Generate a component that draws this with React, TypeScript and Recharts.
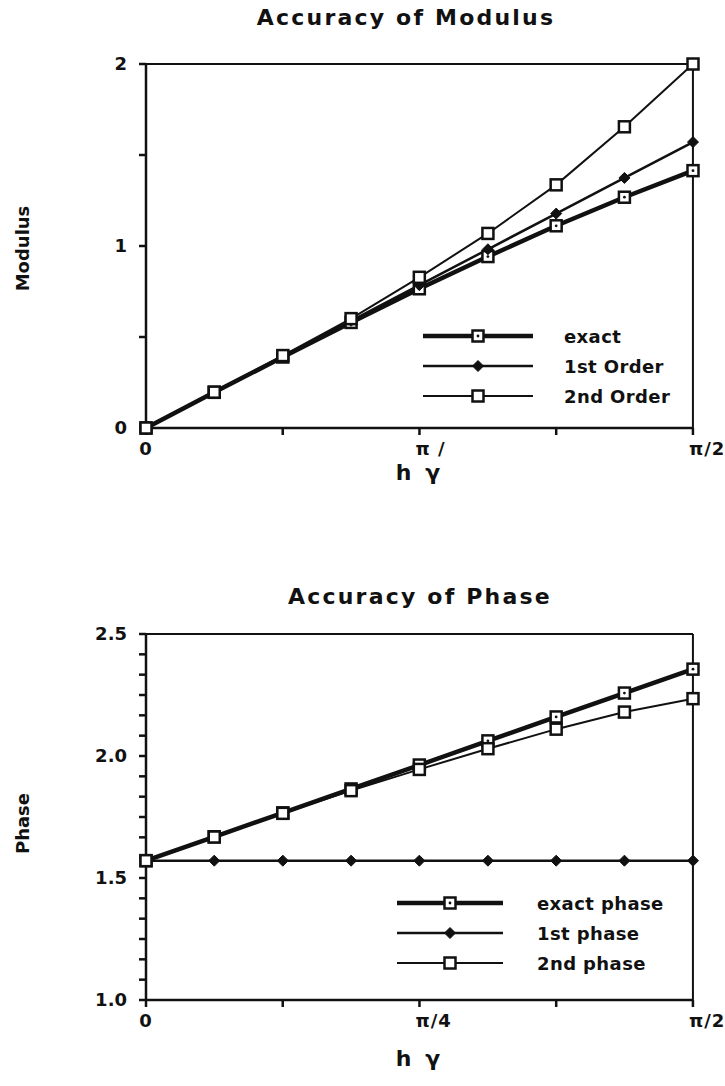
import React from "react";
import { LineChart, Line, XAxis, YAxis, ReferenceLine, Legend } from "recharts";

const FONT = "'DejaVu Sans', 'Liberation Sans', Arial, sans-serif";
const INK = "#111";

// h*gamma sample points, 0 .. pi/2 in steps of pi/16
const hGamma = [0, 0.196, 0.393, 0.589, 0.785, 0.982, 1.178, 1.374, 1.571];

// top chart: modulus
const exactModulus = [0, 0.196, 0.39, 0.58, 0.765, 0.942, 1.111, 1.268, 1.414];
const firstOrder = [0, 0.196, 0.393, 0.589, 0.785, 0.982, 1.178, 1.374, 1.571];
const secondOrder = [0, 0.197, 0.398, 0.601, 0.828, 1.069, 1.336, 1.655, 2.0];

// bottom chart: phase
const exactPhase = [1.571, 1.669, 1.767, 1.865, 1.963, 2.062, 2.16, 2.258, 2.356];
const firstPhase = [1.571, 1.571, 1.571, 1.571, 1.571, 1.571, 1.571, 1.571, 1.571];
const secondPhase = [1.571, 1.668, 1.765, 1.858, 1.945, 2.03, 2.11, 2.18, 2.235];

const xTicks = [0, 0.3927, 0.7854, 1.1781, 1.5708];
const xLabelsTop = ["0", "", "π /", "", "π/2"];
const xLabelsBottom = ["0", "", "π/4", "", "π/2"];

const modulusTicks = [0, 0.5, 1, 1.5, 2];
const modulusLabels = ["0", "", "1", "", "2"];
const phaseTicks = Array.from({ length: 19 }, (_, i) => 1 + i / 12);
const phaseLabels = phaseTicks.map((_, i) => (i % 6 === 0 ? (1 + i / 12).toFixed(1) : ""));

const modulusData = hGamma.map((x, i) => ({
  x,
  exact: exactModulus[i],
  first: firstOrder[i],
  second: secondOrder[i],
}));
const phaseData = hGamma.map((x, i) => ({
  x,
  exact: exactPhase[i],
  first: firstPhase[i],
  second: secondPhase[i],
}));

type Marker = "squareDot" | "diamond" | "square";

function markerShape(kind: Marker, cx: number, cy: number, key?: string) {
  if (kind === "diamond") {
    return (
      <polygon
        key={key}
        points={`${cx},${cy - 5.5} ${cx + 5.5},${cy} ${cx},${cy + 5.5} ${cx - 5.5},${cy}`}
        fill={INK}
        stroke={INK}
        strokeWidth={1}
      />
    );
  }
  return (
    <g key={key}>
      <rect x={cx - 5.5} y={cy - 5.5} width={11} height={11} fill="#fff" stroke={INK} strokeWidth={2.5} />
      {kind === "squareDot" && <circle cx={cx} cy={cy} r={1.4} fill={INK} />}
    </g>
  );
}

const makeDot = (kind: Marker) => (props: any) => {
  const { cx, cy, index } = props;
  if (cx == null || cy == null) return <g key={`n${index}`} />;
  return markerShape(kind, cx, cy, `d${index}`);
};

const XTick = (labels: string[]) => (props: any) => {
  const { x, y, payload, index } = props;
  const i = index ?? payload.index;
  const label = labels[i] ?? "";
  const first = i === 0;
  return (
    <text
      x={first ? x : x - 4}
      y={y + 18}
      textAnchor={first ? "middle" : "start"}
      fontFamily={FONT}
      fontWeight="bold"
      fontSize={18}
      letterSpacing={1}
      fill={INK}
    >
      {label}
    </text>
  );
};

type Series = { key: string; name: string; marker: Marker; width: number };

const modulusSeries: Series[] = [
  { key: "exact", name: "exact", marker: "squareDot", width: 4.5 },
  { key: "first", name: "1st Order", marker: "diamond", width: 2.5 },
  { key: "second", name: "2nd Order", marker: "square", width: 2 },
];
const phaseSeries: Series[] = [
  { key: "exact", name: "exact phase", marker: "squareDot", width: 4.5 },
  { key: "first", name: "1st phase", marker: "diamond", width: 2.5 },
  { key: "second", name: "2nd phase", marker: "square", width: 2 },
];

function LegendBox({ series, lineLen, gap }: { series: Series[]; lineLen: number; gap: number }) {
  return (
    <div>
      {series.map((s) => (
        <div key={s.key} style={{ display: "flex", alignItems: "center", height: 30 }}>
          <svg width={lineLen} height={14} style={{ overflow: "visible" }}>
            <line x1={0} x2={lineLen} y1={7} y2={7} stroke={INK} strokeWidth={s.width} />
            {markerShape(s.marker, lineLen / 2, 7)}
          </svg>
          <span
            style={{
              marginLeft: gap,
              fontFamily: FONT,
              fontWeight: "bold",
              fontSize: 18,
              letterSpacing: 0.4,
              color: INK,
              whiteSpace: "nowrap",
            }}
          >
            {s.name}
          </span>
        </div>
      ))}
    </div>
  );
}

const titleStyle: React.CSSProperties = {
  position: "absolute",
  width: 520,
  textAlign: "center",
  fontFamily: FONT,
  fontWeight: "bold",
  fontSize: 22,
  letterSpacing: 2.2,
  color: INK,
};

const axisTitleStyle: React.CSSProperties = {
  position: "absolute",
  left: 146,
  width: 547,
  textAlign: "center",
  fontFamily: FONT,
  fontWeight: "bold",
  fontSize: 22,
  letterSpacing: 3,
  color: INK,
};

const yTitleStyle = (cy: number): React.CSSProperties => ({
  position: "absolute",
  left: 22 - 60,
  top: cy - 12,
  width: 120,
  textAlign: "center",
  transform: "rotate(-90deg)",
  fontFamily: FONT,
  fontWeight: "bold",
  fontSize: 18,
  color: INK,
});

const yTickStyle = { fontFamily: FONT, fontWeight: "bold", fontSize: 18, fill: INK };

export default function App() {
  return (
    <div style={{ position: "absolute", left: 0, top: 0, width: 725, height: 1086, background: "#fff" }}>
      <div style={{ ...titleStyle, left: 146, top: 5 }}>Accuracy of Modulus</div>
      <div style={yTitleStyle(250)}>Modulus</div>
      <div style={{ ...axisTitleStyle, top: 460 }}>h γ</div>

      <div style={{ position: "absolute", left: 0, top: 0 }}>
        <LineChart width={725} height={500} data={modulusData} margin={{ top: 64, right: 32, left: 86, bottom: 42 }}>
          <XAxis
            dataKey="x"
            type="number"
            domain={[0, 1.5708]}
            ticks={xTicks}
            interval={0}
            height={30}
            tickSize={7}
            tick={XTick(xLabelsTop)}
            axisLine={{ stroke: INK, strokeWidth: 2.5 }}
            tickLine={{ stroke: INK, strokeWidth: 2.5 }}
          />
          <YAxis
            type="number"
            domain={[0, 2]}
            ticks={modulusTicks}
            interval={0}
            width={60}
            tickSize={7}
            tickMargin={12}
            tickFormatter={(_v: number, i: number) => modulusLabels[i]}
            tick={yTickStyle}
            axisLine={{ stroke: INK, strokeWidth: 2.5 }}
            tickLine={{ stroke: INK, strokeWidth: 2.5 }}
          />
          <ReferenceLine y={2} stroke={INK} strokeWidth={2} />
          <ReferenceLine x={1.5708} stroke={INK} strokeWidth={2} />
          <Legend
            layout="vertical"
            align="center"
            verticalAlign="middle"
            wrapperStyle={{ left: 423, top: 321, width: 260 }}
            content={() => <LegendBox series={modulusSeries} lineLen={110} gap={31} />}
          />
          {modulusSeries.map((s) => (
            <Line
              key={s.key}
              dataKey={s.key}
              name={s.name}
              stroke={INK}
              strokeWidth={s.width}
              dot={makeDot(s.marker)}
              activeDot={false}
              isAnimationActive={false}
            />
          ))}
        </LineChart>
      </div>

      <div style={{ ...titleStyle, left: 160, top: 584 }}>Accuracy of Phase</div>
      <div style={yTitleStyle(825)}>Phase</div>
      <div style={{ ...axisTitleStyle, top: 1046 }}>h γ</div>

      <div style={{ position: "absolute", left: 0, top: 540 }}>
        <LineChart width={725} height={546} data={phaseData} margin={{ top: 94, right: 32, left: 86, bottom: 56 }}>
          <XAxis
            dataKey="x"
            type="number"
            domain={[0, 1.5708]}
            ticks={xTicks}
            interval={0}
            height={30}
            tickSize={7}
            tick={XTick(xLabelsBottom)}
            axisLine={{ stroke: INK, strokeWidth: 2.5 }}
            tickLine={{ stroke: INK, strokeWidth: 2.5 }}
          />
          <YAxis
            type="number"
            domain={[1, 2.5]}
            ticks={phaseTicks}
            interval={0}
            width={60}
            tickSize={7}
            tickMargin={12}
            tickFormatter={(_v: number, i: number) => phaseLabels[i]}
            tick={yTickStyle}
            axisLine={{ stroke: INK, strokeWidth: 2.5 }}
            tickLine={{ stroke: INK, strokeWidth: 2.5 }}
          />
          <ReferenceLine y={2.5} stroke={INK} strokeWidth={2} />
          <ReferenceLine x={1.5708} stroke={INK} strokeWidth={2} />
          <Legend
            layout="vertical"
            align="center"
            verticalAlign="middle"
            wrapperStyle={{ left: 397, top: 348, width: 290 }}
            content={() => <LegendBox series={phaseSeries} lineLen={106} gap={34} />}
          />
          {phaseSeries.map((s) => (
            <Line
              key={s.key}
              dataKey={s.key}
              name={s.name}
              stroke={INK}
              strokeWidth={s.width}
              dot={makeDot(s.marker)}
              activeDot={false}
              isAnimationActive={false}
            />
          ))}
        </LineChart>
      </div>
    </div>
  );
}
